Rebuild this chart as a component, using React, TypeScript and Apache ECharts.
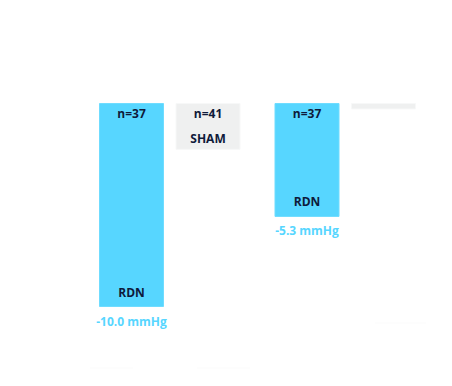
import React, { useEffect, useRef } from "react";
import * as echarts from "echarts";

const groups = ["Office SBP", "Office DBP"];
const arms = ["RDN", "SHAM"];
const sbpChange = [-10.0, -2.3];
const dbpChange = [-5.3, -0.3];
const sampleSizes = ["n=37", "n=41"];
const baselineBP = [["162", "161"], ["100", "102"]];
const deltas = ["Δ 7.7", "Δ 4.9"];
const pValues = ["p = 0.0155", "p = 0.0077"];

const CYAN = "#57d6ff";
const SHAM_GRAY = "#eff0f0";
const NAVY = "#0e1a3a";
const WHITE = "#ffffff";
const FONT = "'Open Sans', 'Noto Sans', sans-serif";

export default function App() {
  const ref = useRef<HTMLDivElement>(null);
  useEffect(() => {
    if (!ref.current) return;
    const chart = echarts.init(ref.current, undefined, { renderer: "svg" });
    const data = [sbpChange, dbpChange];
    const option: any = {
      animation: false,
      backgroundColor: "#ffffff",
      grid: [
        { left: 93.25, width: 153, top: 103, height: 204 },
        { left: 268.75, width: 153, top: 103, height: 215 },
      ],
      xAxis: [0, 1].map((g) => ({
        type: "category",
        gridIndex: g,
        data: arms,
        show: false,
      })),
      yAxis: [0, 1].map((g) => ({
        type: "value",
        gridIndex: g,
        min: -10,
        max: 0,
        show: false,
      })),
      series: [0, 1].map((g) => ({
        type: "bar",
        xAxisIndex: g,
        yAxisIndex: g,
        barWidth: 65,
        data: data[g].map((v, i) => ({
          value: v,
          itemStyle:
            i === 0
              ? { color: CYAN, borderColor: "#6fdcff", borderWidth: 1 }
              : { color: SHAM_GRAY, borderColor: "#f7f8f8", borderWidth: 1 },
        })),
      })),
    };
    chart.setOption(option);

    const g: any[] = [];
    const txt = (x: number, y: number, text: string, fill: string, size: number, weight: any = "normal", align = "center") => {
      g.push({
        type: "text",
        x,
        y,
        z: 100,
        style: { text, fill, fontSize: size, fontWeight: weight, fontFamily: FONT, align, verticalAlign: "middle" },
      });
    };

    // headers
    txt(263, 15, "SPYRAL HTN-OFF MED¹", WHITE, 14, "bold");
    txt(260, 40, "(change from baseline to 3 months)", WHITE, 14);
    txt(175, 65, groups[0], WHITE, 14);
    txt(341, 65, groups[1], WHITE, 14);
    txt(25, 90, "Baseline BP", WHITE, 11, "normal", "left");

    const baseX = [[117, 198], [300, 381]];
    for (let gi = 0; gi < 2; gi++) {
      for (let i = 0; i < 2; i++) {
        txt(baseX[gi][i], 90, baselineBP[gi][i], WHITE, 11);
        const top = chart.convertToPixel({ xAxisIndex: gi, yAxisIndex: gi } as any, [i, 0]) as number[];
        const bot = chart.convertToPixel({ xAxisIndex: gi, yAxisIndex: gi } as any, [i, data[gi][i]]) as number[];
        const cx = top[0];
        const v = data[gi][i].toFixed(1);
        if (i === 0) {
          txt(cx, top[1] + 10, sampleSizes[0], NAVY, 12, "bold");
          txt(cx, bot[1] - 15, arms[0], NAVY, 12, "bold");
          txt(cx, bot[1] + 14, `${v} mmHg`, CYAN, 12, "bold");
        } else if (gi === 0) {
          txt(cx, top[1] + 10, sampleSizes[1], NAVY, 12, "bold");
          txt(cx, bot[1] - 11, arms[1], NAVY, 12, "bold");
          txt(cx, bot[1] + 13, `${v} mmHg`, WHITE, 12);
        } else {
          txt(cx, bot[1] + 8, sampleSizes[1], WHITE, 12);
          txt(cx, bot[1] + 29, arms[1], WHITE, 12);
          txt(cx, bot[1] + 50, `${v} mmHg`, WHITE, 12);
        }
      }
    }

    // differences
    txt(168, 340, deltas[0], WHITE, 14);
    txt(165, 365, pValues[0], WHITE, 11);
    txt(351, 290, deltas[1], WHITE, 14);
    txt(343, 322, pValues[1], WHITE, 11);
    g.push({ type: "line", z: 50, shape: { x1: 90, y1: 368, x2: 133, y2: 368 }, style: { stroke: "#fbfbfb", lineWidth: 1 } });
    g.push({ type: "line", z: 50, shape: { x1: 197, y1: 368, x2: 250, y2: 368 }, style: { stroke: "#fbfbfb", lineWidth: 1 } });
    g.push({ type: "line", z: 50, shape: { x1: 375, y1: 323, x2: 426, y2: 323 }, style: { stroke: "#fbfbfb", lineWidth: 1 } });

    chart.setOption({ graphic: g });
    return () => chart.dispose();
  }, []);
  return <div ref={ref} style={{ width: 452, height: 386, margin: -8 }} />;
}
